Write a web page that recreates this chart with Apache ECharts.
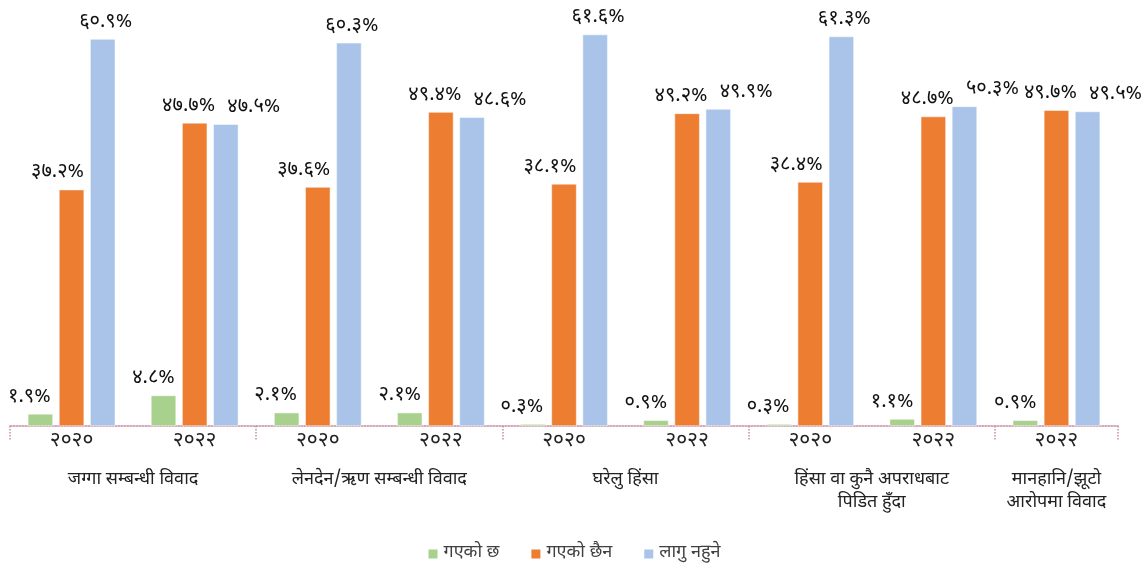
<!DOCTYPE html>
<html>
<head>
<meta charset="utf-8">
<script src="https://cdn.jsdelivr.net/npm/echarts@6/dist/echarts.min.js"></script>
<style>
html,body{margin:0;padding:0;background:#fff;}
#c{width:1147px;height:572px;}
</style>
</head>
<body>
<div id="c"></div>
<script>
// ---- data ----
const years = ['2020','2022','2020','2022','2020','2022','2020','2022','2022'];
const groupNames = ['जग्गा सम्बन्धी विवाद','लेनदेन/ऋण सम्बन्धी विवाद','घरेलु हिंसा','हिंसा वा कुनै अपराधबाट\nपिडित हुँदा','मानहानि/झूटो\nआरोपमा विवाद'];
const seriesNames = ['गएको छ','गएको छैन','लागु नहुने'];
const gone = [1.9, 4.8, 2.1, 2.1, 0.3, 0.9, 0.3, 1.1, 0.9];
const notGone = [37.2, 47.7, 37.6, 49.4, 38.1, 49.2, 38.4, 48.7, 49.7];
const notApplicable = [60.9, 47.5, 60.3, 48.6, 61.6, 49.9, 61.3, 50.3, 49.5];

const devDigits = ['०','१','२','३','४','५','६','७','८','९'];
function toDev(s){ return String(s).replace(/[0-9]/g, d => devDigits[+d]); }

// group-label helper axis: 19 half-slot points
const groupLabelPos = {2:0, 6:1, 10:2, 14:3, 17:4};
const separatorPos = [0,4,8,12,16,18];
const halfSlots = [];
for (let i = 0; i < 19; i++) halfSlots.push('h' + i);

const font = "'Noto Sans Devanagari','Nirmala UI','Mangal','Noto Sans',sans-serif";
const colors = ['#a9d18e','#ed7d31','#a9c4e8'];

// label nudges (style) per series, by year, to mimic the reference's label placement
const labelShift = [
  {'2020': -11, '2022': -10},
  {'2020': -14, '2022': -6},
  {'2020': 3, '2022': 28}
];

const chart = echarts.init(document.getElementById('c'));
const labelOpt = {
  show: true, position: 'top', distance: 6,
  color: '#111', fontSize: 20, fontFamily: font,
  formatter: p => toDev(p.value.toFixed(1)) + '%'
};
const layoutFn = p => ({dx: labelShift[p.seriesIndex][years[p.dataIndex]]});
chart.setOption({
  animation: false,
  color: colors,
  textStyle: {fontFamily: font},
  grid: {left: 10, right: 29, top: 13, bottom: 146},
  legend: {
    bottom: 4, left: 'center', itemWidth: 11, itemHeight: 11, itemGap: 30,
    icon: 'rect',
    textStyle: {fontSize: 18, color: '#404040', fontFamily: font},
    data: seriesNames
  },
  xAxis: [{
    type: 'category', data: years,
    axisLine: {lineStyle: {color: '#c68aa2', type: 'dotted', width: 1.5}},
    axisTick: {show: false},
    axisLabel: {margin: 6, fontSize: 21, color: '#222', fontFamily: font, formatter: v => toDev(v)}
  }, {
    type: 'category', data: halfSlots, boundaryGap: false, position: 'bottom',
    axisLine: {show: false},
    axisTick: {show: true, length: 14, interval: (i) => separatorPos.includes(i),
      lineStyle: {color: '#c68aa2', type: 'dotted', width: 1.5}},
    axisLabel: {
      margin: 43, fontSize: 18, color: '#222', lineHeight: 23, fontFamily: font,
      interval: (i) => groupLabelPos[i] !== undefined,
      formatter: (v, i) => groupLabelPos[i] !== undefined ? groupNames[groupLabelPos[i]] : ''
    }
  }],
  yAxis: {type: 'value', min: 0, max: 65, show: false, splitLine: {show: false}},
  series: [
    {name: seriesNames[0], type: 'bar', data: gone, barGap: '24%', barCategoryGap: '29%', label: labelOpt,
     labelLayout: layoutFn, itemStyle: {borderColor: '#fff', borderWidth: 0.5}},
    {name: seriesNames[1], type: 'bar', data: notGone, label: labelOpt,
     labelLayout: layoutFn, itemStyle: {borderColor: '#fff', borderWidth: 0.5}},
    {name: seriesNames[2], type: 'bar', data: notApplicable, label: labelOpt,
     labelLayout: layoutFn, itemStyle: {borderColor: '#fff', borderWidth: 0.5}}
  ]
});
</script>
</body>
</html>
